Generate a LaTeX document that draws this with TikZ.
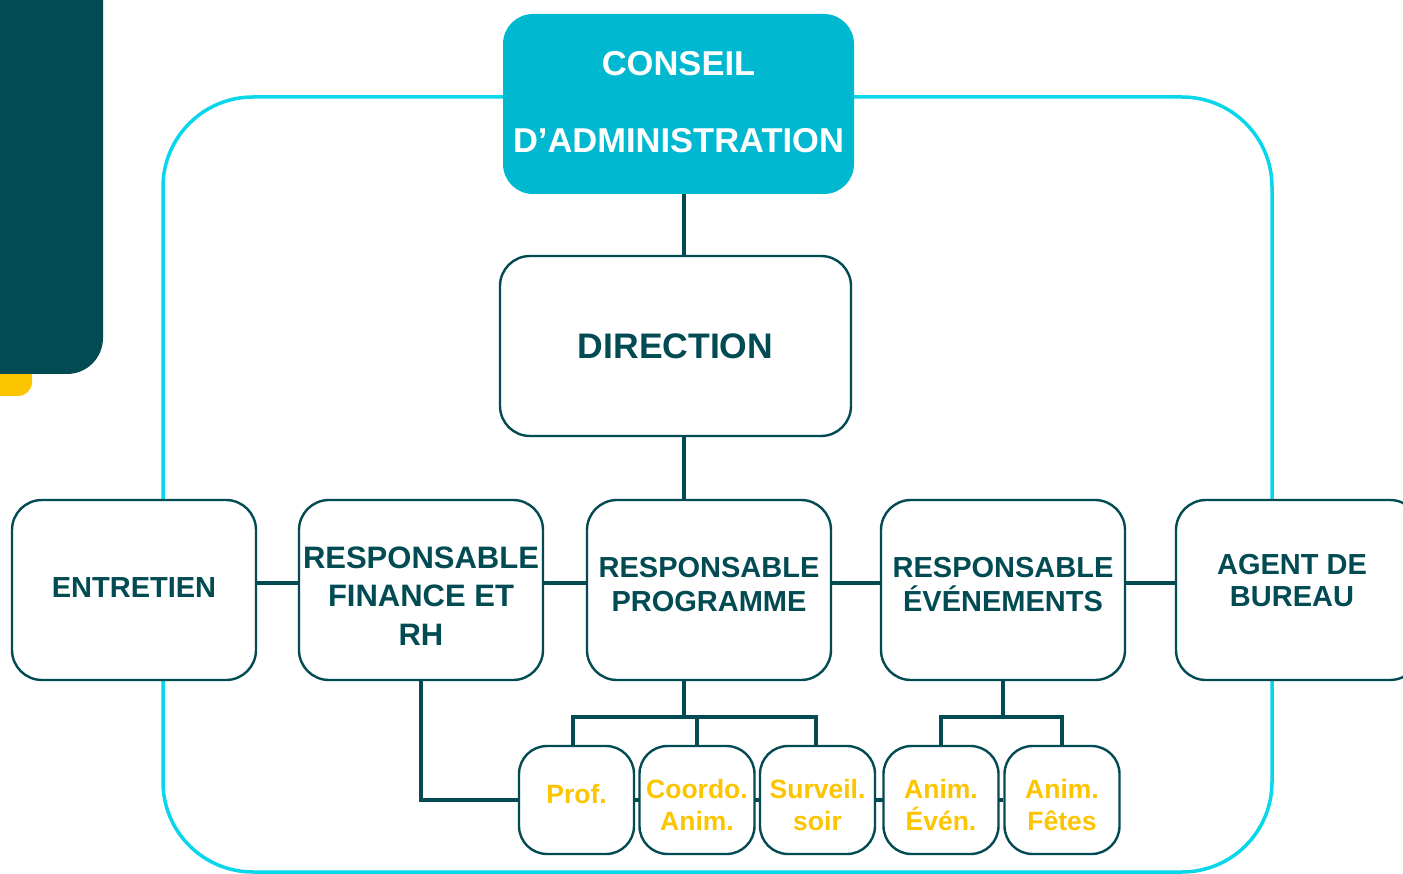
\documentclass[tikz,border=0pt]{standalone}
\usepackage{fontspec}
\setmainfont{Liberation Sans}
\definecolor{dteal}{HTML}{024B53}
\definecolor{cfill}{HTML}{00B8D0}
\definecolor{cline}{HTML}{08D6EA}
\definecolor{ytext}{HTML}{FDC400}
\pgfdeclarelayer{bg}
\pgfsetlayers{bg,main}
\tikzset{
  box/.style={draw=dteal, line width=2.4pt, fill=white, rounded corners=30pt,
    minimum width=244pt, minimum height=180pt, inner sep=0pt},
  btext/.style={align=center, text=dteal, inner sep=0pt,
    font=\fontsize{29}{34}\selectfont\bfseries},
  sbox/.style={draw=dteal, line width=2.4pt, fill=white, rounded corners=28pt,
    minimum width=115pt, minimum height=108pt, inner sep=0pt},
  stext/.style={align=center, text=ytext, inner sep=0pt,
    font=\fontsize{26.5}{32}\selectfont\bfseries},
  conn/.style={draw=dteal, line width=4.5pt},
}
\begin{document}
\begin{tikzpicture}[x=1pt,y=-1pt]
\useasboundingbox (0,0) rectangle (1403,874);
\begin{pgfonlayer}{bg}
  \fill[ytext, rounded corners=14pt] (-60,320) rectangle (32,396);
  \fill[dteal, rounded corners=36pt] (-60,-60) rectangle (103,374);
  \draw[cline, line width=3.5pt, rounded corners=90pt] (163,97) rectangle (1272,872);
\end{pgfonlayer}
\node[fill=cfill, rounded corners=30pt, minimum width=351pt, minimum height=180pt,
  inner sep=0pt] (conseil) at (678.5,104) {};
\node[align=center, text=white, inner sep=0pt, font=\fontsize{34.5}{77}\selectfont\bfseries]
  (conseilt) at ([yshift=2pt]conseil.center) {CONSEIL\\D’ADMINISTRATION};
\node[box, minimum width=351pt] (direction) at (675.5,346) {};
\node[btext, font=\fontsize{35.5}{40}\selectfont\bfseries] (directiont) at (direction.center) {DIRECTION};
\node[box] (entretien) at (134,590) {};
\node[btext] (entretient) at ([yshift=2pt]entretien.center) {ENTRETIEN};
\node[box] (finance) at (421,590) {};
\node[btext, font=\fontsize{31}{38.5}\selectfont\bfseries] (financet) at ([yshift=-6pt]finance.center) {RESPONSABLE\\FINANCE ET\\RH};
\node[box] (prog) at (709,590) {};
\node[btext] (progt) at ([yshift=5pt]prog.center) {RESPONSABLE\\PROGRAMME};
\node[box] (even) at (1003,590) {};
\node[btext] (event) at ([yshift=5pt]even.center) {RESPONSABLE\\ÉVÉNEMENTS};
\node[box] (agent) at (1298,590) {};
\node[btext, font=\fontsize{29}{32}\selectfont\bfseries] (agentt) at (1292,581) {AGENT DE\\BUREAU};
\node[sbox] (prof) at (576.5,800) {};
\node[stext] (proft) at ([yshift=6pt]prof.center) {Prof.};
\node[sbox] (coordo) at (697,800) {};
\node[stext] (coordot) at ([yshift=-5pt]coordo.center) {Coordo.\\Anim.};
\node[sbox] (surv) at (817.5,800) {};
\node[stext] (survt) at ([yshift=-5pt]surv.center) {Surveil.\\soir};
\node[sbox] (anev) at (941,800) {};
\node[stext] (anevt) at ([yshift=-5pt]anev.center) {Anim.\\Évén.};
\node[sbox] (anfe) at (1062,800) {};
\node[stext] (anfet) at ([yshift=-5pt]anfe.center) {Anim.\\Fêtes};
\coordinate (spine) at (684,0);
\coordinate (hl) at (0,583);
\coordinate (pj) at (0,717);
\begin{pgfonlayer}{bg}
  \draw[conn] (conseil.south -| spine) -- (direction.north -| spine);
  \draw[conn] (direction.south -| spine) -- (prog.north -| spine);
  \draw[conn] (entretien.east |- hl) -- (agent.west |- hl);
  \draw[conn] (prog.south -| spine) -- (pj -| spine);
  \draw[conn] ([xshift=-3.5pt]prof.north) -- ([xshift=-3.5pt]prof.north |- pj) -- ([xshift=-1.5pt]surv.north |- pj) -- ([xshift=-1.5pt]surv.north);
  \draw[conn] (coordo.north) -- (coordo.north |- pj);
  \draw[conn] (even.south) -- (even.south |- pj);
  \draw[conn] (anev.north) -- (anev.north |- pj) -- (anfe.north |- pj) -- (anfe.north);
  \draw[conn] (finance.south) |- (anfe.west);
\end{pgfonlayer}
\end{tikzpicture}
\end{document}
